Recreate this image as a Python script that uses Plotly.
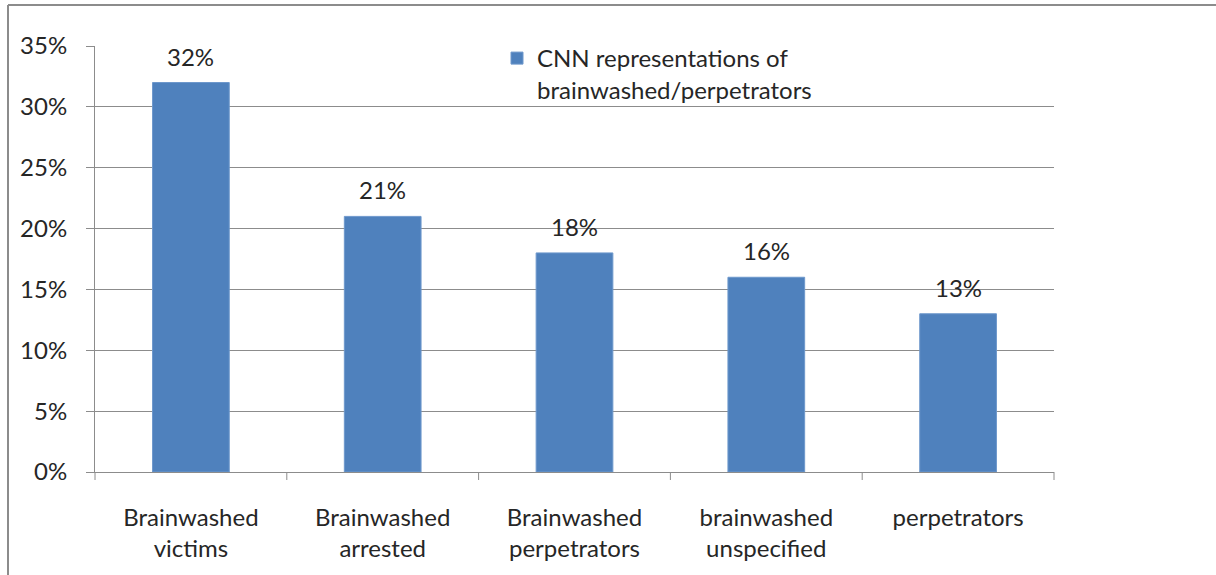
import plotly.graph_objects as go

categories = ["Brainwashed<br>victims", "Brainwashed<br>arrested", "Brainwashed<br>perpetrators",
              "brainwashed<br>unspecified", "perpetrators"]
values = [0.32, 0.21, 0.18, 0.16, 0.13]
labels = ["32%", "21%", "18%", "16%", "13%"]
series_name = "CNN representations of<br>brainwashed/perpetrators"

W, H = 1216, 575
L, R, T, B = 95, 1054, 46, 472
FONT = "Lato, 'Open Sans', sans-serif"
FS = 24

fig = go.Figure()
fig.add_trace(go.Bar(
    x=categories, y=values, name=series_name,
    marker=dict(color="#4F81BD", line=dict(color="#6E98CC", width=1)),
    width=0.4, showlegend=True,
))

for c, v, t in zip(categories, values, labels):
    fig.add_annotation(x=c, y=v, text=t, showarrow=False, yanchor="bottom",
                       yshift=10, font=dict(size=FS, family=FONT, color="#262626"))

def px_x(p):
    return (p - L) / (R - L)

def px_y(p):
    return (B - p) / (B - T)

shapes = [
    dict(type="line", xref="paper", yref="paper", x0=px_x(8), x1=px_x(8), y0=px_y(5), y1=px_y(580),
         line=dict(color="#8C8C8C", width=2)),
    dict(type="line", xref="paper", yref="paper", x0=px_x(8), x1=px_x(1220), y0=px_y(5), y1=px_y(5),
         line=dict(color="#8C8C8C", width=2)),
]

fig.update_layout(
    width=W, height=H,
    margin=dict(l=L, r=W - R, t=T, b=H - B, pad=0),
    paper_bgcolor="white", plot_bgcolor="white",
    font=dict(family=FONT, size=FS, color="#262626"),
    bargap=0.6,
    showlegend=True,
    legend=dict(x=px_x(497), y=px_y(36), xanchor="left", yanchor="top", valign="top",
                font=dict(size=FS, family=FONT, color="#262626"),
                bgcolor="rgba(0,0,0,0)", itemwidth=30),
    xaxis=dict(showgrid=False, showline=True, linecolor="#8C8C8C", linewidth=1,
               ticks="", tickfont=dict(size=FS), ticklabelstandoff=24),
    yaxis=dict(range=[0, 0.35], dtick=0.05, tickformat=".0%", showgrid=True,
               gridcolor="#8C8C8C", gridwidth=1, showline=True, linecolor="#8C8C8C",
               linewidth=1, ticks="outside", ticklen=8, tickcolor="#8C8C8C",
               tickfont=dict(size=FS), zeroline=False, ticklabelstandoff=14),
    shapes=shapes,
)

for i in range(len(categories) + 1):
    fig.add_shape(type="line", xref="paper", yref="paper",
                  x0=i / len(categories), x1=i / len(categories),
                  y0=0, y1=-8 / (B - T), line=dict(color="#8C8C8C", width=1))

fig.write_html("out.html")
